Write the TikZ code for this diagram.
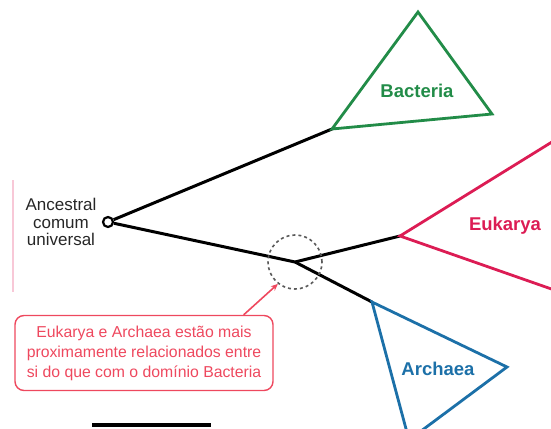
\documentclass[tikz,border=0pt]{standalone}
\usepackage{fontspec}
\setmainfont{Liberation Sans}
\usetikzlibrary{arrows.meta}
\definecolor{bgreen}{RGB}{34,140,72}
\definecolor{ered}{RGB}{220,28,84}
\definecolor{ablue}{RGB}{28,112,168}
\definecolor{cred}{RGB}{238,72,94}
\definecolor{cpink}{RGB}{248,200,215}
\tikzset{
  branch/.style={line width=3pt, black},
  clade/.style={line width=2.8pt, line join=miter},
  cladelabel/.style={font=\fontsize{18.5}{20}\selectfont\bfseries},
}
\begin{document}
\begin{tikzpicture}[x=1pt,y=-1pt]
\useasboundingbox (0,0) rectangle (551,428);
% faint margin line
\draw[cpink, line width=1.2pt] (13,180) -- (13,292);
% root
\node[circle, draw, line width=2.2pt, minimum size=10pt, inner sep=0pt, fill=white] (root) at (108,222) {};
\node[align=center, font=\fontsize{17}{17.5}\selectfont, text=black!85] (rootlbl) at (61,222) {Ancestral\\comum\\universal};
% coordinates
\coordinate (bac) at (332,129);
\coordinate (j) at (295,262);
\coordinate (euk) at (400,236);
\coordinate (arc) at (372,302);
% branches
\draw[branch] (root) -- (bac);
\draw[branch] (root) -- (j);
\draw[branch] (j) -- (euk);
\draw[branch] (j) -- (arc);
% Bacteria
\draw[clade, bgreen] (bac) -- (418,12) -- (492,114) -- cycle;
\node[cladelabel, text=bgreen] (baclbl) at (417,91) {Bacteria};
% Eukarya
\draw[clade, ered] (560,137) -- (euk) -- (560,292);
\node[cladelabel, text=ered] (euklbl) at (505,226) {Eukarya};
% Archaea
\draw[clade, ablue] (arc) -- (507,367) -- (409,440) -- cycle;
\node[cladelabel, text=ablue] (arclbl) at (438,369) {Archaea};
% dashed circle
\node[circle, draw=black!65, dash pattern=on 3pt off 3pt, line width=1.6pt, minimum size=54pt, inner sep=0pt] (circ) at (j) {};
% callout
\node[draw=cred, line width=1.4pt, rounded corners=9pt, text=cred, align=center,
      font=\fontsize{15.8}{20}\selectfont, minimum width=258pt, minimum height=75pt, inner sep=1pt] (callout) at (144,353)
  {Eukarya e Archaea estão mais\\proximamente relacionados entre\\si do que com o domínio Bacteria};
\draw[cred, line width=1.6pt, -{Stealth[length=7pt,width=6pt]}] ([xshift=-30pt]callout.north east) -- (circ.232);
% scale bar
\coordinate (s1) at (92,425);
\coordinate (s2) at (211,425);
\draw[line width=4pt, black] (s1) -- (s2);
\end{tikzpicture}
\end{document}
